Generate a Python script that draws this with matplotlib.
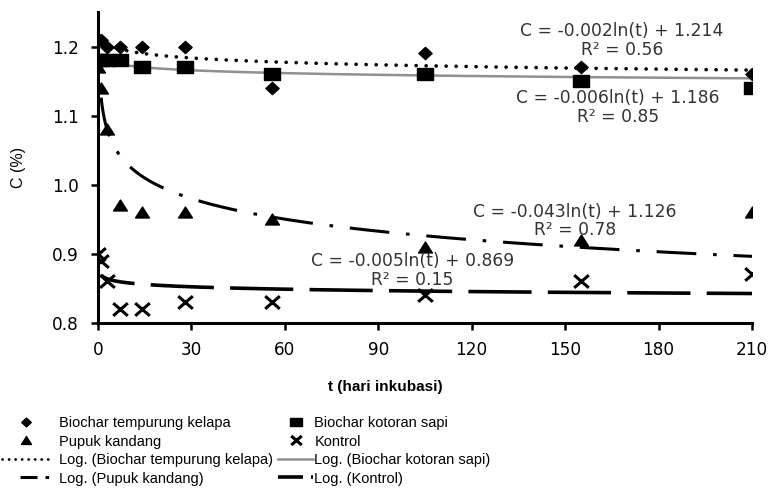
import numpy as np
import matplotlib
matplotlib.use("Agg")
import matplotlib.pyplot as plt
from matplotlib.path import Path
from matplotlib.lines import Line2D

plt.rcParams["lines.scale_dashes"] = False

# ---------------- data ----------------
t_days = [0, 1, 3, 7, 14, 28, 56, 105, 155, 210]
tempurung = [1.21, 1.21, 1.20, 1.20, 1.20, 1.20, 1.14, 1.19, 1.17, 1.16]
kotoran   = [1.18, 1.18, 1.18, 1.18, 1.17, 1.17, 1.16, 1.16, 1.15, 1.14]
pupuk     = [1.17, 1.14, 1.08, 0.97, 0.96, 0.96, 0.95, 0.91, 0.92, 0.96]
kontrol   = [0.90, 0.89, 0.86, 0.82, 0.82, 0.83, 0.83, 0.84, 0.86, 0.87]

series_names = ["Biochar tempurung kelapa", "Biochar kotoran sapi",
                "Pupuk kandang", "Kontrol"]

# logarithmic trendlines as drawn (C = a ln(t) + b)
trend_a = [-0.009, -0.006, -0.043, -0.005]
trend_b = [1.214, 1.186, 1.126, 0.869]
# equations as printed on the chart
label_a = ["-0.002", "-0.006", "-0.043", "-0.005"]
label_b = ["1.214", "1.186", "1.126", "0.869"]
label_r2 = ["0.56", "0.85", "0.78", "0.15"]
label_pos = [(168.3, 1.2228, 1.1952), (167.0, 1.1256, 1.0980),
             (153.2, 0.9604, 0.9343), (101.0, 0.8899, 0.8620)]

xticks = [0, 30, 60, 90, 120, 150, 180, 210]
yticks = [0.8, 0.9, 1.0, 1.1, 1.2]

# ---------------- markers ----------------
diamond = Path([(-1.08, 0), (0, 1), (1.08, 0), (0, -1), (-1.08, 0)],
               [Path.MOVETO, Path.LINETO, Path.LINETO, Path.LINETO, Path.CLOSEPOLY])
rect = Path([(-1.33, -1), (1.33, -1), (1.33, 1), (-1.33, 1), (-1.33, -1)],
            [Path.MOVETO, Path.LINETO, Path.LINETO, Path.LINETO, Path.CLOSEPOLY])
tri = Path([(-1.27, -1), (1.27, -1), (0, 1), (-1.27, -1)],
           [Path.MOVETO, Path.LINETO, Path.LINETO, Path.CLOSEPOLY])
cross = Path([(-1.15, -1), (1.15, 1), (-1.15, 1), (1.15, -1)],
             [Path.MOVETO, Path.LINETO, Path.MOVETO, Path.LINETO])

fig = plt.figure(figsize=(7.71, 4.90), dpi=100)
ax = fig.add_axes([98 / 771, 1 - 322.7 / 490, 654 / 771, 310.7 / 490])

# trendlines (dash patterns in points)
tt = np.linspace(1, 210, 600)
styles = [
    dict(color="black", lw=2.6, linestyle=(0, (0.1, 7.1)), dash_capstyle="round"),
    dict(color="#8f8f8f", lw=1.8, linestyle="-"),
    dict(color="black", lw=2.2, linestyle=(0, (28.6, 12.1, 2.6, 12.1))),
    dict(color="black", lw=2.6, linestyle=(20.3, (45.5, 11.7))),
]
trend_lines = []
for a, b, st in zip(trend_a, trend_b, styles):
    ln, = ax.plot(tt, a * np.log(tt) + b, zorder=2, **st)
    trend_lines.append(ln)

# legend proxies for the trendlines (shorter dash patterns, as in the legend)
leg_styles = [
    dict(color="black", lw=2.0, linestyle=(0, (0.1, 4.6)), dash_capstyle="round"),
    dict(color="#8f8f8f", lw=1.8, linestyle="-"),
    dict(color="black", lw=2.2, linestyle=(20.6, (12.2, 5.8, 2.6, 13.0))),
    dict(color="black", lw=2.6, linestyle=(0, (18.0, 5.8))),
]
leg_lines = [Line2D([], [], **st) for st in leg_styles]

# markers
mk = []
mk.append(ax.plot(t_days, tempurung, linestyle="none", marker=diamond, ms=9.5,
                  color="black", zorder=3)[0])
mk.append(ax.plot(t_days, kotoran, linestyle="none", marker=rect, ms=11.5,
                  color="black", zorder=3)[0])
mk.append(ax.plot(t_days, pupuk, linestyle="none", marker=tri, ms=10,
                  color="black", zorder=3)[0])
mk.append(ax.plot(t_days, kontrol, linestyle="none", marker=cross, ms=10.5,
                  mfc="none", mec="black", mew=2.2, zorder=3)[0])

ax.set_xlim(0, 210)
ax.set_ylim(0.8, 1.25)
ax.set_xticks(xticks)
ax.set_yticks(yticks)
ax.set_xticklabels([str(v) for v in xticks], family="DejaVu Sans", fontsize=12.2)
ax.set_yticklabels([f"{v:.1f}" for v in yticks], family="DejaVu Sans", fontsize=12.2)
ax.tick_params(direction="out", length=5, width=1.8, color="black")
ax.tick_params(axis="y", pad=9)
ax.tick_params(axis="x", pad=8)
for s in ["top", "right"]:
    ax.spines[s].set_visible(False)
for s in ["left", "bottom"]:
    ax.spines[s].set_linewidth(2.2)

ax.set_xlabel("t (hari inkubasi)", family="Liberation Sans", fontweight="bold",
              fontsize=11, va="center")
ax.xaxis.set_label_coords(0.439, -0.207)
ax.set_ylabel("C (%)", family="Liberation Sans", fontsize=11.5, va="center")
ax.yaxis.set_label_coords(-0.122, 0.501)

# equations
for a, b, r2, (px, py1, py2) in zip(label_a, label_b, label_r2, label_pos):
    ax.text(px, py1, f"C = {a}ln(t) + {b}", ha="center", va="center",
            family="DejaVu Sans", fontsize=12.3, color="#333333")
    ax.text(px, py2, f"R² = {r2}", ha="center", va="center",
            family="DejaVu Sans", fontsize=12.3, color="#333333")

# legend (two columns, Excel-like)
leg_font = dict(family="Liberation Sans", size=10.5)
col1_handles = [mk[0], mk[2], leg_lines[0], leg_lines[2]]
col1_labels = [series_names[0], series_names[2],
               f"Log. ({series_names[0]})", f"Log. ({series_names[2]})"]
col2_handles = [mk[1], mk[3], leg_lines[1], leg_lines[3]]
col2_labels = [series_names[1], series_names[3],
               f"Log. ({series_names[1]})", f"Log. ({series_names[3]})"]

leg1 = fig.legend(col1_handles, col1_labels, loc="upper left",
                  bbox_to_anchor=(2 / 771, 1 - 416 / 490), frameon=False,
                  prop=leg_font, handlelength=3.3, handletextpad=0.6,
                  borderpad=0, borderaxespad=0, labelspacing=0.31, markerscale=0.72)
leg2 = fig.legend(col2_handles, col2_labels, loc="upper left",
                  bbox_to_anchor=(278 / 771, 1 - 416 / 490), frameon=False,
                  prop=leg_font, handlelength=2.4, handletextpad=0.1,
                  borderpad=0, borderaxespad=0, labelspacing=0.31, markerscale=0.72)

fig.savefig("out.png", dpi=100)
